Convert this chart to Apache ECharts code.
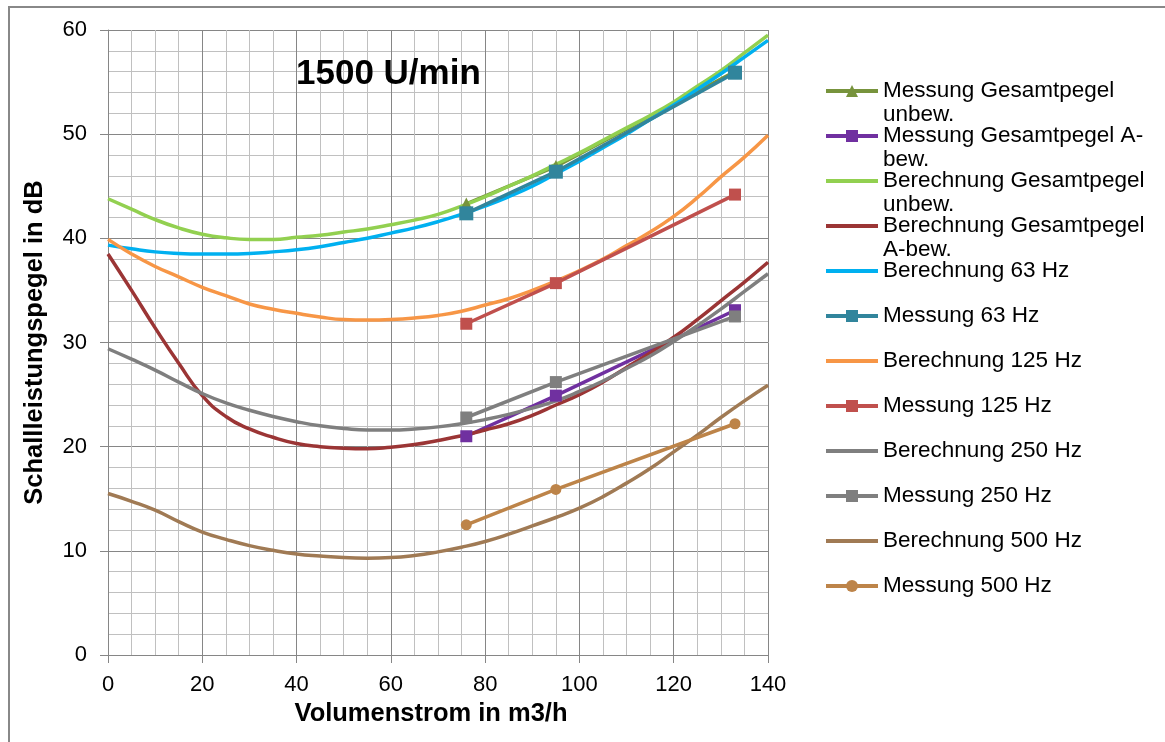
<!DOCTYPE html>
<html>
<head>
<meta charset="utf-8">
<script src="https://cdn.jsdelivr.net/npm/echarts@6/dist/echarts.min.js"></script>
<style>
html,body{margin:0;padding:0;background:#fff;}
#chart{width:1165px;height:742px;}
</style>
</head>
<body>
<div id="chart"></div>
<script>
// ---- data ----
const xCalc = [0, 5, 10, 15, 20, 25, 30, 35, 40, 45, 50, 55, 60, 65, 70, 75, 80, 85, 90, 95, 100, 105, 110, 115, 120, 125, 130, 135, 140];
const berGesUnbew = [43.8, 42.8, 41.8, 41.0, 40.4, 40.05, 39.9, 39.9, 40.1, 40.3, 40.6, 40.9, 41.3, 41.75, 42.3, 43.1, 44.0, 45.0, 46.0, 47.1, 48.2, 49.4, 50.6, 51.8, 53.1, 54.6, 56.1, 57.8, 59.5];
const berGesAbew  = [38.5, 35.0, 31.4, 28.0, 24.9, 22.9, 21.7, 20.9, 20.3, 20.0, 19.85, 19.8, 19.95, 20.2, 20.6, 21.05, 21.6, 22.2, 23.0, 24.0, 25.0, 26.2, 27.6, 29.0, 30.5, 32.2, 34.0, 35.8, 37.7];
const ber63       = [39.35, 39.0, 38.7, 38.55, 38.5, 38.5, 38.55, 38.7, 38.9, 39.2, 39.6, 40.0, 40.5, 41.0, 41.6, 42.3, 43.1, 44.0, 45.0, 46.2, 47.4, 48.7, 50.0, 51.4, 52.8, 54.3, 55.8, 57.4, 59.0];
const ber125      = [39.9, 38.5, 37.3, 36.3, 35.3, 34.5, 33.7, 33.2, 32.8, 32.45, 32.2, 32.15, 32.2, 32.35, 32.6, 33.0, 33.6, 34.2, 35.0, 35.9, 36.9, 38.0, 39.3, 40.6, 42.1, 43.9, 45.9, 47.8, 49.9];
const ber250      = [29.4, 28.4, 27.35, 26.2, 25.1, 24.2, 23.5, 22.9, 22.4, 22.0, 21.75, 21.6, 21.6, 21.7, 21.9, 22.2, 22.6, 23.1, 23.7, 24.4, 25.3, 26.3, 27.5, 28.7, 30.1, 31.6, 33.2, 34.9, 36.6];
const ber500      = [15.5, 14.75, 13.9, 12.8, 11.8, 11.1, 10.5, 10.05, 9.7, 9.5, 9.35, 9.3, 9.35, 9.55, 9.9, 10.35, 10.9, 11.6, 12.4, 13.2, 14.1, 15.2, 16.5, 17.9, 19.5, 21.1, 22.8, 24.4, 25.9];

const xMeas = [76, 95, 133];
const mesGesUnbew = [43.3, 46.9, 56.0];
const mesGesAbew  = [21.0, 24.9, 33.1];
const mes63       = [42.4, 46.4, 55.9];
const mes125      = [31.8, 35.7, 44.2];
const mes250      = [22.8, 26.2, 32.5];
const mes500      = [12.5, 15.9, 22.2];

const seriesNames = [
  'Messung Gesamtpegel unbew.',
  'Messung Gesamtpegel A-bew.',
  'Berechnung Gesamtpegel unbew.',
  'Berechnung Gesamtpegel A-bew.',
  'Berechnung 63 Hz',
  'Messung 63 Hz',
  'Berechnung 125 Hz',
  'Messung 125 Hz',
  'Berechnung 250 Hz',
  'Messung 250 Hz',
  'Berechnung 500 Hz',
  'Messung 500 Hz'
];
// legend text as wrapped in the original (first line, second line)
const legendLine1 = [
  'Messung Gesamtpegel', 'Messung Gesamtpegel A-', 'Berechnung Gesamtpegel', 'Berechnung Gesamtpegel',
  'Berechnung 63 Hz', 'Messung 63 Hz', 'Berechnung 125 Hz', 'Messung 125 Hz',
  'Berechnung 250 Hz', 'Messung 250 Hz', 'Berechnung 500 Hz', 'Messung 500 Hz'
];
const legendLine2 = ['unbew.', 'bew.', 'unbew.', 'A-bew.', ' ', ' ', ' ', ' ', ' ', ' ', ' ', ' '];
const xTicks = [0, 20, 40, 60, 80, 100, 120, 140];
const yTicks = [0, 10, 20, 30, 40, 50, 60];

// ---- chart ----
const FONT = '"Liberation Sans", Arial, sans-serif';
const pairs = (xs, ys) => xs.map((x, i) => [x, ys[i]]);
const isCalc = (name) => name.indexOf('Berechnung') === 0;

function calcSeries(name, ys, color) {
  return {
    name, type: 'line', data: pairs(xCalc, ys), smooth: 0.5,
    symbol: 'none', showSymbol: false,
    lineStyle: { color, width: 3.5 }, itemStyle: { color },
    emphasis: { disabled: true }
  };
}
function measSeries(name, ys, color, symbol, size) {
  return {
    name, type: 'line', data: pairs(xMeas, ys), smooth: false,
    symbol, symbolSize: size, showSymbol: true,
    lineStyle: { color, width: 3.5 }, itemStyle: { color },
    emphasis: { disabled: true }
  };
}

const chart = echarts.init(document.getElementById('chart'), null, { renderer: 'canvas' });
const option = {
  animation: false,
  backgroundColor: '#ffffff',
  textStyle: { fontFamily: FONT },
  title: {
    text: '1500 U/min', left: 291, top: 52,
    textStyle: { fontFamily: FONT, fontSize: 35, fontWeight: 'bold', color: '#000' }
  },
  grid: { left: 108, top: 30, right: 397, bottom: 87 },
  xAxis: {
    type: 'value', min: xTicks[0], max: xTicks[xTicks.length - 1], interval: xTicks[1] - xTicks[0],
    name: 'Volumenstrom in m3/h', nameLocation: 'middle', nameGap: 44,
    nameTextStyle: { fontFamily: FONT, fontSize: 25.5, fontWeight: 'bold', color: '#000', padding: [0, 14, 0, 0] },
    axisLine: { show: true, lineStyle: { color: '#868686', width: 1 } },
    axisTick: { show: true, length: 8, lineStyle: { color: '#868686' } },
    axisLabel: { fontFamily: FONT, fontSize: 22, color: '#000', margin: 19 },
    splitLine: { show: true, lineStyle: { color: '#868686', width: 1 } },
    minorTick: { show: false, splitNumber: 4 },
    minorSplitLine: { show: true, lineStyle: { color: '#c0c0c0', width: 1 } }
  },
  yAxis: {
    type: 'value', min: yTicks[0], max: yTicks[yTicks.length - 1], interval: yTicks[1] - yTicks[0],
    name: 'Schallleistungspegel in dB', nameLocation: 'middle', nameGap: 60,
    nameTextStyle: { fontFamily: FONT, fontSize: 25.5, fontWeight: 'bold', color: '#000' },
    axisLine: { show: true, lineStyle: { color: '#868686', width: 1 } },
    axisTick: { show: true, length: 8, lineStyle: { color: '#868686' } },
    axisLabel: { fontFamily: FONT, fontSize: 22, color: '#000', margin: 21 },
    splitLine: { show: true, lineStyle: { color: '#868686', width: 1 } },
    minorTick: { show: false, splitNumber: 5 },
    minorSplitLine: { show: true, lineStyle: { color: '#c0c0c0', width: 1 } }
  },
  legend: {
    orient: 'vertical', left: 824, top: 55, padding: 0,
    itemWidth: 52, itemHeight: 15, itemGap: -27,
    selectedMode: false,
    lineStyle: { width: 4 },
    textStyle: { fontFamily: FONT, fontSize: 22.5, color: '#000', lineHeight: 24 },
    formatter: (name) => {
      const i = seriesNames.indexOf(name);
      return ' \n' + legendLine1[i] + '\n' + legendLine2[i];
    },
    data: seriesNames.map((name) => isCalc(name)
      ? { name, itemStyle: { color: 'rgba(0,0,0,0)', borderWidth: 0, opacity: 0 } }
      : { name })
  },
  graphic: [{
    type: 'rect', silent: true, z: 100,
    shape: { x: 9, y: 7, width: 1400, height: 1000 },
    style: { fill: 'none', stroke: '#888888', lineWidth: 2 }
  }],
  series: [
    measSeries(seriesNames[0], mesGesUnbew, '#77933C', 'triangle', 13),
    measSeries(seriesNames[1], mesGesAbew, '#7030A0', 'rect', 12),
    calcSeries(seriesNames[2], berGesUnbew, '#92D050'),
    calcSeries(seriesNames[3], berGesAbew, '#9B3535'),
    calcSeries(seriesNames[4], ber63, '#00B0F0'),
    measSeries(seriesNames[5], mes63, '#31859C', 'rect', 14),
    calcSeries(seriesNames[6], ber125, '#F79646'),
    measSeries(seriesNames[7], mes125, '#C0504D', 'rect', 12),
    calcSeries(seriesNames[8], ber250, '#7F7F7F'),
    measSeries(seriesNames[9], mes250, '#7F7F7F', 'rect', 12),
    calcSeries(seriesNames[10], ber500, '#A07A54'),
    measSeries(seriesNames[11], mes500, '#BD8449', 'circle', 11)
  ]
};
chart.setOption(option);
</script>
</body>
</html>
